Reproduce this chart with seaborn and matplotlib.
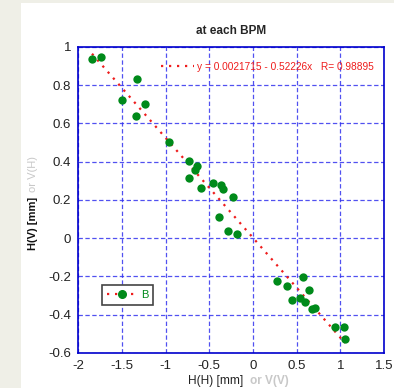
import numpy as np
import pandas as pd
import matplotlib
matplotlib.use("Agg")
import matplotlib.pyplot as plt
import seaborn as sns
from matplotlib.lines import Line2D
from matplotlib.patches import Rectangle

# orbit response at each BPM
h_mm = [-1.843, -1.740, -1.496, -1.328, -1.343, -1.236, -0.965, -0.732, -0.732,
        -0.644, -0.663, -0.595, -0.461, -0.369, -0.346, -0.228, -0.385, -0.282,
        -0.179, 0.272, 0.394, 0.570, 0.639, 0.448, 0.540, 0.600, 0.680, 0.711,
        0.937, 1.040, 1.055]
v_mm = [0.937, 0.946, 0.722, 0.831, 0.641, 0.702, 0.504, 0.401, 0.314,
        0.377, 0.356, 0.262, 0.291, 0.276, 0.257, 0.215, 0.111, 0.039,
        0.022, -0.226, -0.253, -0.205, -0.269, -0.325, -0.314, -0.332, -0.373, -0.368,
        -0.464, -0.464, -0.528]
fit_a = 0.0021715
fit_b = -0.52226
fit_r = 0.98895

df = pd.DataFrame({"x": h_mm, "y": v_mm})
xs = np.array([min(h_mm), max(h_mm)])
fit_df = pd.DataFrame({"x": xs, "y": fit_a + fit_b * xs})

sns.set_style("white")
plt.rcParams["font.family"] = ["Liberation Sans", "DejaVu Sans"]

fig = plt.figure(figsize=(3.94, 3.88), dpi=100, facecolor="#efefe7")
fig.patches.append(Rectangle((21 / 394, 0), 1, 385 / 388, transform=fig.transFigure,
                             facecolor="white", edgecolor="none", zorder=-1))
ax = fig.add_axes([0.1987, 0.0907, 0.7757, 0.7882])
ax.set_facecolor("white")

red = "#ee1c1c"
green = "#008a1a"
dots = (0, (1, 2.6))

sns.lineplot(data=fit_df, x="x", y="y", ax=ax, color=red, lw=1.6, linestyle=dots,
             legend=False, zorder=3)
sns.scatterplot(data=df, x="x", y="y", ax=ax, color=green, s=36, edgecolor=green,
                linewidth=0, legend=False, zorder=4)

ax.set_xlim(-2, 1.5)
ax.set_ylim(-0.6, 1.0)
ax.set_xticks([-2, -1.5, -1, -0.5, 0, 0.5, 1, 1.5])
ax.set_xticklabels(["-2", "-1.5", "-1", "-0.5", "0", "0.5", "1", "1.5"])
ax.set_yticks([-0.6, -0.4, -0.2, 0, 0.2, 0.4, 0.6, 0.8, 1])
ax.set_yticklabels(["-0.6", "-0.4", "-0.2", "0", "0.2", "0.4", "0.6", "0.8", "1"])
ax.tick_params(labelsize=9.5, colors="#222222", length=0, pad=5)
ax.grid(True, color="#3333ee", linestyle=(0, (3.5, 2)), lw=0.9, alpha=0.85)
for sp in ax.spines.values():
    sp.set_color("#0000cc")
    sp.set_linewidth(1.2)
ax.set_xlabel("")
ax.set_ylabel("")

ax.set_title("at each BPM", fontsize=8.5, fontweight="bold", pad=9)

# axis labels in two colours
fig.text(0.617, 0.019, "H(H) [mm]", fontsize=8.6, color="#222222", ha="right", va="center")
fig.text(0.635, 0.019, "or V(V)", fontsize=8.6, color="#c8c8c8", fontweight="bold",
         ha="left", va="center")
fig.text(0.085, 0.492, "H(V) [mm]", fontsize=8, color="#111111", fontweight="bold",
         rotation=90, ha="center", va="top")
fig.text(0.085, 0.504, "or V(H)", fontsize=8, color="#c8c8c8",
         rotation=90, ha="center", va="bottom")

# fit legend (top)
fit_handle = Line2D([], [], color=red, lw=1.6, linestyle=dots)
leg1 = ax.legend([fit_handle],
                 [f"y = {fit_a:.7f} - {abs(fit_b):.5f}x   R= {fit_r:.5f}"],
                 loc="upper right", bbox_to_anchor=(0.99, 0.975), frameon=False,
                 fontsize=7.3, handlelength=3.3, handletextpad=0.3, borderpad=0.2,
                 labelcolor=red)
ax.add_artist(leg1)

# data legend (box)
b_handle = Line2D([], [], color=red, lw=1.6, linestyle=dots, marker="o",
                  markersize=5.5, markerfacecolor=green, markeredgecolor=green)
leg2 = ax.legend([b_handle], ["B"], loc="lower left", bbox_to_anchor=(0.0776, 0.156),
                 borderaxespad=0, fontsize=8, handlelength=2.7, handletextpad=0.35,
                 numpoints=1, borderpad=0.45, fancybox=False, framealpha=1,
                 edgecolor="#444444", labelcolor=green)
leg2.get_frame().set_linewidth(1.2)

fig.savefig("out.png", dpi=100, facecolor=fig.get_facecolor())
